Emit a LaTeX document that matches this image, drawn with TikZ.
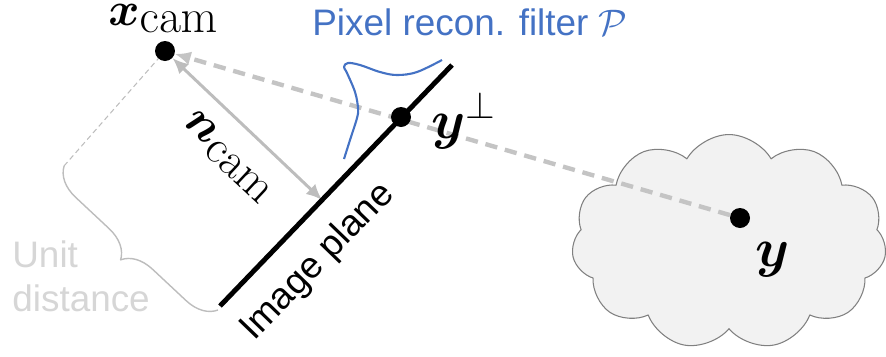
\RequirePackage{fix-cm}
\documentclass[tikz,border=0pt]{standalone}
\usepackage{amsmath,amssymb}
\usepackage[no-math]{fontspec}
\setmainfont{Liberation Sans}
\usepackage{tikz}
\usetikzlibrary{arrows.meta,calc,shapes.symbols,decorations.pathreplacing}
\definecolor{FilterBlue}{HTML}{4472C4}
\definecolor{RayGray}{HTML}{C4C4C4}
\definecolor{NormGray}{HTML}{BDBDBD}
\definecolor{UnitGray}{HTML}{D6D6D6}
\definecolor{CloudFill}{HTML}{F2F2F2}
\definecolor{CloudEdge}{HTML}{808080}
\tikzset{camtip/.tip={Latex[length=9pt,width=8pt]}}

\begin{document}
\begin{tikzpicture}[x=0.02cm,y=-0.02cm,line join=round,
  textlbl/.style={font=\fontsize{21}{25.5}\selectfont,inner sep=0pt},
  mathlbl/.style={font=\fontsize{27}{32}\selectfont,inner sep=0pt},
  dot/.style={circle,fill=black,inner sep=0pt,minimum size=0.4cm},
  raydash/.style={RayGray,line width=2.5pt,dash pattern=on 7pt off 4.5pt},
  normarrow/.style={NormGray,line width=1.7pt}]
  \useasboundingbox (0,0) rectangle (886,356);
  \node[cloud,cloud puffs=11,cloud puff arc=120,aspect=1.47,minimum width=6.3cm,minimum height=4.3cm,
    fill=CloudFill,draw=CloudEdge,line width=0.6pt] (blob) at (729,242) {};
  \coordinate (planeA) at (220,306);
  \coordinate (planeB) at (452,65);
  \coordinate (foot) at ($(planeA)!0.44!(planeB)$);
  \coordinate (braceA) at (218,310);
  \coordinate (braceB) at (64,166);
  \node[dot] (ypt) at (740,218) {};
  \node[dot] (xcam) at (165,51) {};
  % unit distance brace
  \draw[NormGray,line width=0.8pt,decorate,decoration={brace,amplitude=17pt}] (braceA) -- (braceB);
  \draw[NormGray,line width=0.6pt,dash pattern=on 3pt off 2pt] (braceB) -- (xcam);
  % ray and normal
  \draw[raydash,-camtip] (ypt) -- (xcam);
  \draw[normarrow,camtip-camtip] (xcam) -- (foot);
  \draw[line width=2.8pt] (planeA) -- (planeB);
  \draw[FilterBlue,line width=1.2pt] plot[smooth,tension=0.6] coordinates {(344,159) (350,140) (357,118) (358,108) (355,92) (347,73) (344,67) (348,63) (360,65) (380,72) (397,75) (417,72) (442,60)};
  \node[dot] (yperp) at (401,117) {};
  % labels
  \node[mathlbl,anchor=base west] (xcamlbl) at (108,25) {$\boldsymbol{x}_{\textstyle\mathrm{cam}}$};
  \node[mathlbl,rotate=-43] (ncamlbl) at (228,157) {$\boldsymbol{n}_{\textstyle\mathrm{cam}}$};
  \node[mathlbl,font=\fontsize{31}{36}\selectfont,anchor=base west] (yperplbl) at (431,138) {$\boldsymbol{y}^{\perp}$};
  \node[mathlbl,font=\fontsize{31}{36}\selectfont,anchor=base west] (ylbl) at (755,266) {$\boldsymbol{y}$};
  \node[textlbl,text=FilterBlue,anchor=base west] (pixlbl) at (312,35) {Pixel recon. filter $\mathcal{P}$};
  \node[textlbl,rotate=46] (planelbl) at (318,262) {Image plane};
  \node[textlbl,text=UnitGray,align=left,anchor=north west] (unitlbl) at (12,240) {Unit\\distance};
\end{tikzpicture}
\end{document}
